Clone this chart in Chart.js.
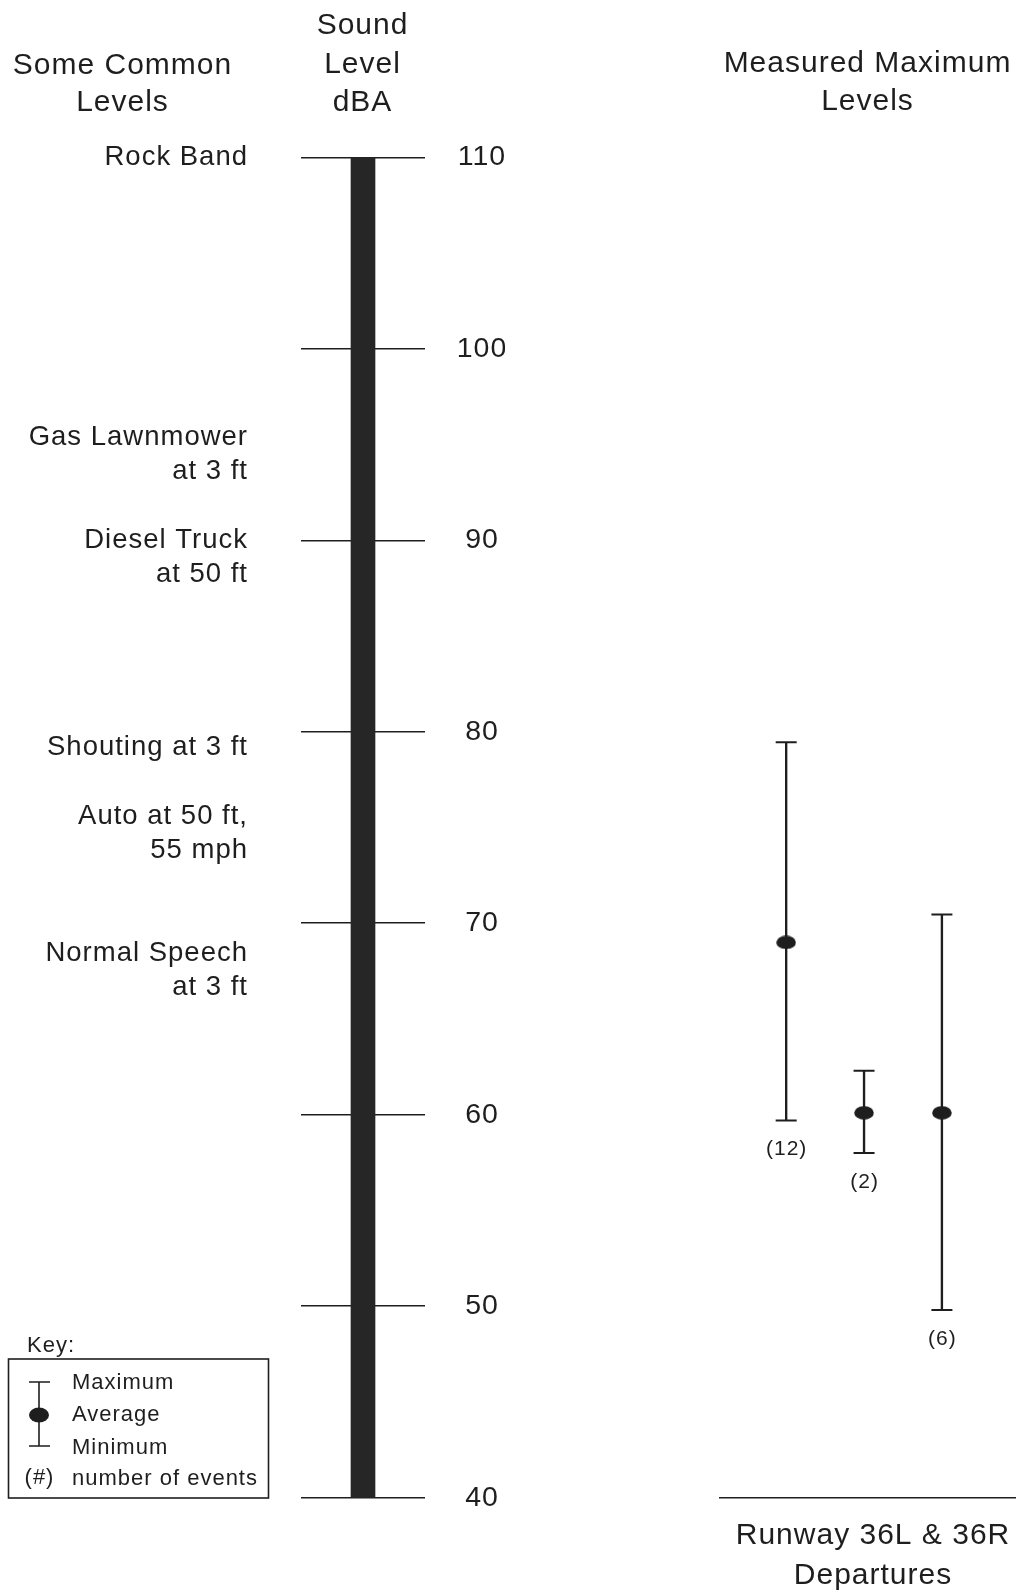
<!DOCTYPE html>
<html>
<head>
<meta charset="utf-8">
<script src="https://cdn.jsdelivr.net/npm/chart.js@4/dist/chart.umd.min.js"></script>
<style>
  html, body { margin: 0; padding: 0; background: #fff; overflow: hidden; }
  #wrap { position: relative; width: 1016px; height: 1591px; overflow: hidden; background: #fff; }
  #scaleChart { position: absolute; left: 0; top: 0; }
  #measChart { position: absolute; left: 540px; top: 0; }
</style>
</head>
<body>
<div id="wrap">
  <canvas id="scaleChart" width="540" height="1591"></canvas>
  <canvas id="measChart" width="486" height="1591"></canvas>
</div>
<script>
// ---------------- data ----------------
const scaleMin = 40;
const scaleMax = 110;
const tickValues = [40, 50, 60, 70, 80, 90, 100, 110];

const commonLabels = [
  ['Rock Band'],
  ['Gas Lawnmower', 'at 3 ft'],
  ['Diesel Truck', 'at 50 ft'],
  ['Shouting at 3 ft'],
  ['Auto at 50 ft,', '55 mph'],
  ['Normal Speech', 'at 3 ft']
];
const commonLevels = [110, 95.35, 90.0, 79.2, 75.6, 68.4];

const eventIndex = [1, 2, 3];
const maxLevels = [79.45, 62.3, 70.45];
const avgLevels = [69.0, 60.1, 60.1];
const minLevels = [59.7, 58.0, 49.8];
const eventCounts = [12, 2, 6];
const categoryLabel = ['Runway 36L & 36R', 'Departures'];

const leftHeading = ['Some Common', 'Levels'];
const scaleHeading = ['Sound', 'Level', 'dBA'];
const rightHeading = ['Measured Maximum', 'Levels'];
const keyTitle = 'Key:';
const keyItems = ['Maximum', 'Average', 'Minimum', 'number of events'];

// ---------------- style ----------------
const FONT = '"Liberation Sans", Arial, Helvetica, sans-serif';
const INK = '#1e1e1e';

function txt(ctx, s, x, y, size, align) {
  ctx.save();
  ctx.font = size + 'px ' + FONT;
  ctx.fillStyle = INK;
  ctx.textAlign = align;
  ctx.textBaseline = 'middle';
  let dx = 0;
  if ('letterSpacing' in ctx) {
    ctx.letterSpacing = '1px';
    dx = align === 'right' ? 1 : (align === 'center' ? 0.5 : 0);
  }
  ctx.fillText(s, x + dx, y);
  ctx.restore();
}

const spacing = {
  id: 'spacing',
  beforeDraw(chart) {
    if ('letterSpacing' in chart.ctx) chart.ctx.letterSpacing = '1px';
  }
};

const scaleAnnotations = {
  id: 'scaleAnnotations',
  afterDraw(chart) {
    const ctx = chart.ctx;
    const y = chart.scales.y;
    // common level labels
    commonLabels.forEach((lines, i) => {
      const py = y.getPixelForValue(commonLevels[i]);
      lines.forEach((s, j) => txt(ctx, s, 247, py + j * 34, 27.5, 'right'));
    });
    // headings
    txt(ctx, leftHeading[0], 122, 65.5, 30, 'center');
    txt(ctx, leftHeading[1], 122, 103, 30, 'center');
    txt(ctx, scaleHeading[0], 362, 26, 30, 'center');
    txt(ctx, scaleHeading[1], 362, 64.5, 30, 'center');
    txt(ctx, scaleHeading[2], 362, 103, 30, 'center');
    // key
    ctx.save();
    ctx.strokeStyle = INK;
    ctx.lineWidth = 1.6;
    ctx.strokeRect(8.5, 1359, 260, 139);
    ctx.beginPath();
    ctx.moveTo(39, 1382); ctx.lineTo(39, 1446);
    ctx.moveTo(29, 1382); ctx.lineTo(50, 1382);
    ctx.moveTo(29, 1446); ctx.lineTo(50, 1446);
    ctx.stroke();
    ctx.fillStyle = INK;
    ctx.beginPath();
    ctx.ellipse(39, 1415, 10, 7.5, 0, 0, Math.PI * 2);
    ctx.fill();
    ctx.restore();
    txt(ctx, keyTitle, 27, 1346, 22, 'left');
    const ky = [1383, 1415, 1448, 1479];
    keyItems.forEach((s, i) => txt(ctx, s, 72, ky[i], 22, 'left'));
    txt(ctx, '(#)', 39, 1478, 22, 'center');
  }
};

const measAnnotations = {
  id: 'measAnnotations',
  afterDraw(chart) {
    const ctx = chart.ctx;
    const xs = chart.scales.x, ys = chart.scales.y;
    eventIndex.forEach((v, i) => {
      const px = xs.getPixelForValue(v);
      const py = ys.getPixelForValue(minLevels[i]) + 29;
      txt(ctx, '(' + eventCounts[i] + ')', px, py, 21, 'center');
    });
    txt(ctx, rightHeading[0], 327, 63.5, 30, 'center');
    txt(ctx, rightHeading[1], 327, 102, 30, 'center');
  }
};

// average marker: filled ellipse
const dot = document.createElement('canvas');
dot.width = 20; dot.height = 14;
(function () {
  const d = dot.getContext('2d');
  d.fillStyle = INK;
  d.beginPath();
  d.ellipse(10, 7, 9.8, 6.8, 0, 0, Math.PI * 2);
  d.fill();
})();

// ---------------- chart A: the dBA scale ----------------
new Chart(document.getElementById('scaleChart'), {
  type: 'bar',
  data: {
    labels: ['Sound Level dBA'],
    datasets: [{
      label: 'Scale',
      data: [[scaleMin, scaleMax]],
      backgroundColor: '#262626',
      borderWidth: 0,
      barThickness: 24
    }]
  },
  options: {
    responsive: false,
    animation: false,
    events: [],
    layout: { autoPadding: false, padding: { top: 157.3, bottom: 93.3, left: 301, right: 35 } },
    plugins: { legend: { display: false }, tooltip: { enabled: false } },
    scales: {
      x: { display: false },
      y: {
        position: 'right',
        min: scaleMin,
        max: scaleMax,
        afterBuildTicks: s => { s.ticks = tickValues.map(v => ({ value: v })); },
        afterFit: s => { s.width = 80; },
        grid: { color: INK, lineWidth: 1.5, drawTicks: false, tickLength: 0 },
        border: { display: false },
        ticks: {
          padding: 33.2,
          crossAlign: 'center',
          color: INK,
          font: { family: FONT, size: 28.5 },
          autoSkip: false,
          callback: v => String(v)
        }
      }
    }
  },
  plugins: [spacing, scaleAnnotations]
});

// ---------------- chart B: measured levels ----------------
new Chart(document.getElementById('measChart'), {
  type: 'bar',
  data: {
    datasets: [
      {
        type: 'line', label: 'Average', order: 0, showLine: false,
        data: eventIndex.map((x, i) => ({ x, y: avgLevels[i] })),
        pointStyle: dot, pointRadius: 8
      },
      {
        type: 'line', label: 'Maximum', order: 1, showLine: false,
        data: eventIndex.map((x, i) => ({ x, y: maxLevels[i] })),
        pointStyle: 'line', pointRadius: 10.5, pointBorderWidth: 2,
        pointBorderColor: INK, pointBackgroundColor: INK
      },
      {
        type: 'line', label: 'Minimum', order: 1, showLine: false,
        data: eventIndex.map((x, i) => ({ x, y: minLevels[i] })),
        pointStyle: 'line', pointRadius: 10.5, pointBorderWidth: 2,
        pointBorderColor: INK, pointBackgroundColor: INK
      },
      {
        type: 'bar', label: 'Range', order: 2,
        data: eventIndex.map((x, i) => ({ x, y: [minLevels[i], maxLevels[i]] })),
        backgroundColor: INK, borderWidth: 0, barThickness: 1.7
      }
    ]
  },
  options: {
    responsive: false,
    animation: false,
    events: [],
    layout: { autoPadding: false, padding: { top: 157.3, bottom: 0, left: 180, right: 0 } },
    plugins: { legend: { display: false }, tooltip: { enabled: false } },
    scales: {
      x: {
        type: 'linear', min: 0.15, max: 4.08, offset: false,
        grid: { display: false, drawTicks: false, offset: false },
        border: { display: true, color: INK, width: 1.5 },
        ticks: { display: false },
        title: {
          display: true, text: categoryLabel, color: INK,
          font: { family: FONT, size: 30, lineHeight: 1.3167 },
          padding: { top: 18.55, bottom: -4.25 }
        }
      },
      y: { display: false, min: scaleMin, max: scaleMax }
    }
  },
  plugins: [spacing, measAnnotations]
});
</script>
</body>
</html>
